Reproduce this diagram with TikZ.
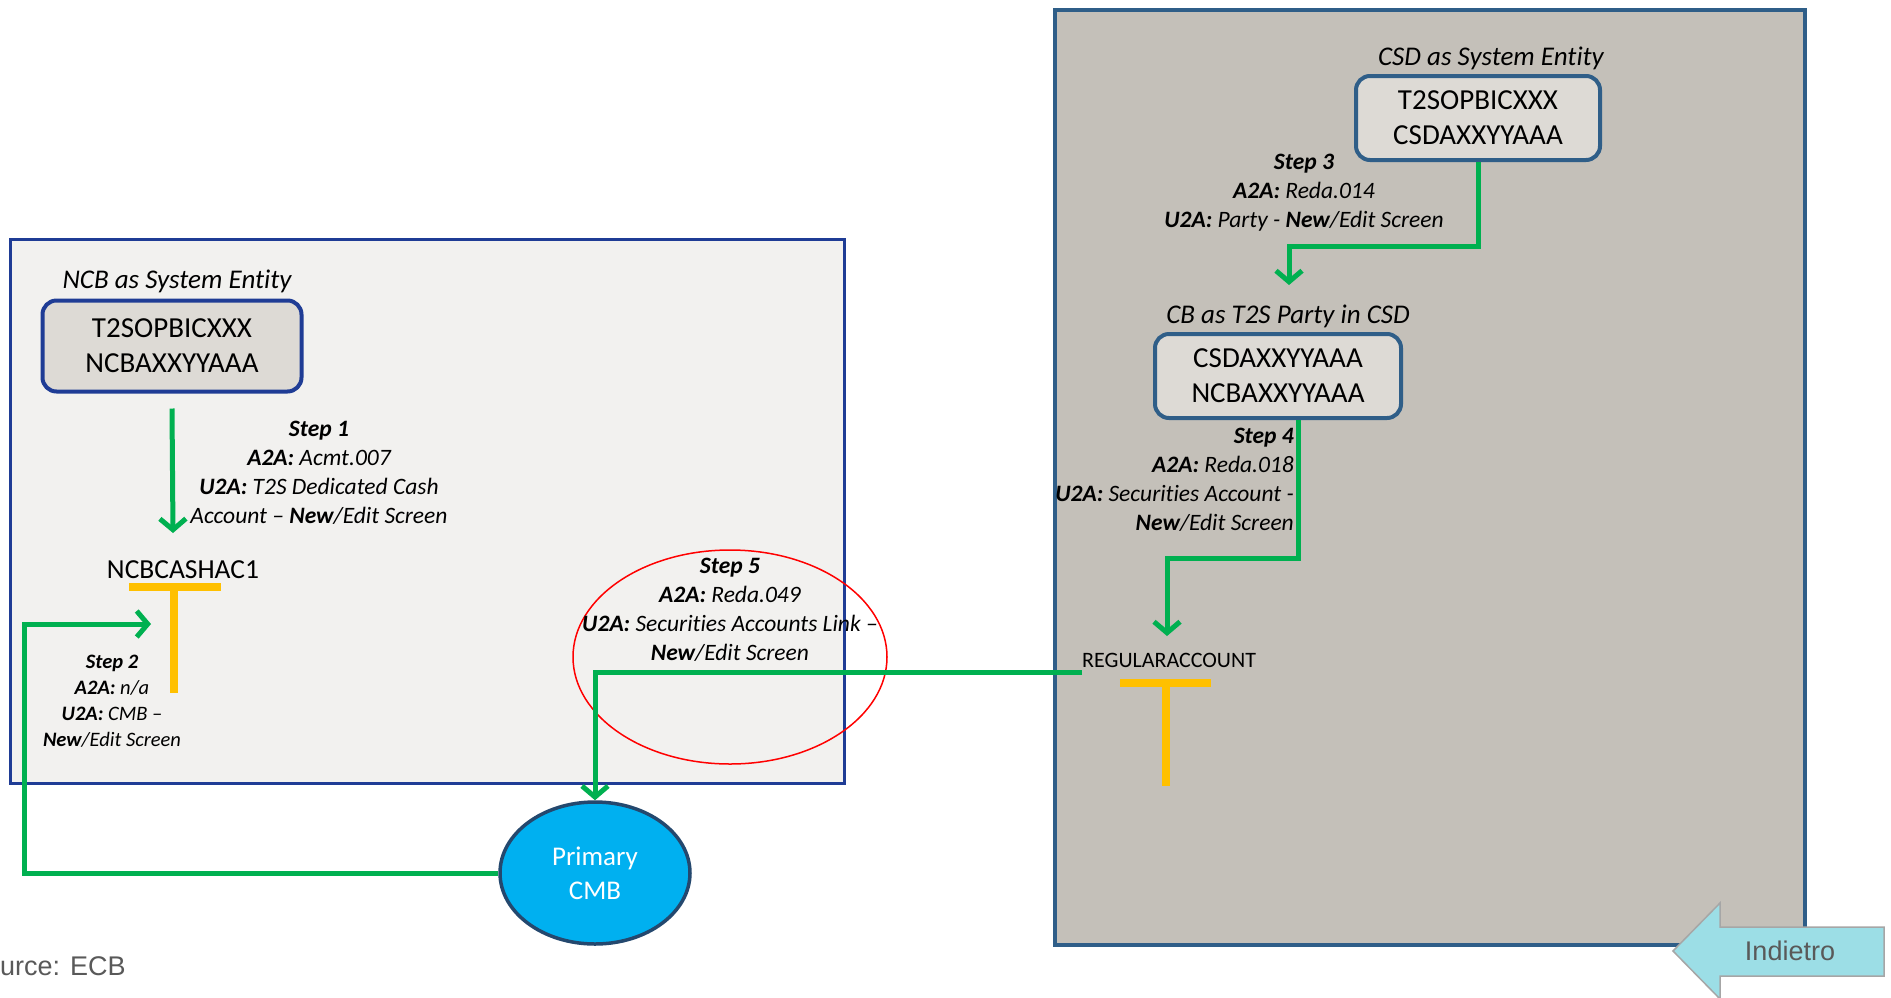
\documentclass[tikz,border=0pt]{standalone}
\usepackage{fontspec}
\setmainfont{Carlito}[Ligatures={NoCommon,NoRare}]
\newfontfamily\arialfont{Liberation Sans}
\usetikzlibrary{arrows.meta,shapes.geometric}

\definecolor{flowgreen}{HTML}{00B050}
\definecolor{acctyellow}{HTML}{FFC000}
\definecolor{ncbblue}{HTML}{1F3C95}
\definecolor{csdblue}{HTML}{2F5E88}
\definecolor{lightpanel}{HTML}{F2F1EF}
\definecolor{darkpanel}{HTML}{C4C0B9}
\definecolor{boxfill}{HTML}{DDDAD5}
\definecolor{cmbfill}{HTML}{00B0F0}
\definecolor{cmbborder}{HTML}{24486E}
\definecolor{backfill}{HTML}{9CDEE6}
\definecolor{notegray}{HTML}{595959}

\begin{document}
\begin{tikzpicture}[x=1pt,y=-1pt,
    flow/.style={draw=flowgreen,line width=5pt,-{Straight Barb[length=11pt,width=26pt]}},
    acctbar/.style={draw=acctyellow,line width=8pt},
    entitybox/.style={draw=#1,fill=boxfill,line width=4pt,rounded corners=14pt,
      align=center,font=\fontsize{29}{35}\selectfont,inner sep=0pt},
    heading/.style={font=\itshape\fontsize{27}{27}\selectfont,inner sep=0pt},
    steptext/.style={font=\itshape\fontsize{23.5}{29}\selectfont,align=center,inner sep=0pt},
    acctname/.style={font=\fontsize{#1}{#1}\selectfont,inner sep=0pt}]
  \useasboundingbox[fill=white] (0,0) rectangle (1891,997);

  \draw[draw=csdblue,fill=darkpanel,line width=4pt] (1055,10) rectangle (1805,945);
  \draw[draw=ncbblue,fill=lightpanel,line width=3pt] (10,239) rectangle (844,783);

  \node[entitybox=ncbblue,minimum width=259pt,minimum height=91pt] (ncb) at (172,346)
    {T2SOPBICXXX\\NCBAXXYYAAA};
  \node[heading] (ncbhead) at (177,281) {NCB as System Entity};

  \node[acctname=27.5] (ncash) at (183,570) {NCBCASHAC1};
  \coordinate (t1) at (174,587);
  \draw[acctbar] ([xshift=-45pt]t1) -- ([xshift=47pt]t1) (t1) -- ++(0,106);

  \coordinate (s1end) at (173,533);
  \draw[flow] ([yshift=-15pt]ncb.south) -- (s1end);
  \node[steptext] (step1) at (319,473)
    {\textbf{Step 1}\\\textbf{A2A:} Acmt.007\\\textbf{U2A:} T2S Dedicated Cash\\Account -- \textbf{New}/Edit Screen};

  \node[ellipse,draw=cmbborder,fill=cmbfill,line width=3.5pt,minimum width=190pt,minimum height=142pt,
    text=white,align=center,font=\fontsize{27}{34}\selectfont] (cmb) at (595,873) {Primary\\CMB};

  \coordinate (s2end) at (151,624);
  \draw[flow] (cmb.west) -| ([xshift=-127pt]s2end) -- (s2end);
  \node[steptext,font=\itshape\fontsize{20.5}{26}\selectfont] (step2) at (112,701)
    {\textbf{Step 2}\\\textbf{A2A:} n/a\\\textbf{U2A:} CMB --\\\textbf{New}/Edit Screen};

  \node[entitybox=csdblue,minimum width=244pt,minimum height=84pt] (csd) at (1478,118)
    {T2SOPBICXXX\\CSDAXXYYAAA};
  \node[heading] (csdhead) at (1491,58) {CSD as System Entity};

  \node[entitybox=csdblue,minimum width=246pt,minimum height=84pt] (cb) at (1278,376)
    {CSDAXXYYAAA\\NCBAXXYYAAA};
  \node[heading] (cbhead) at (1288,316) {CB as T2S Party in CSD};

  \coordinate (s3end) at (1289,285);
  \draw[flow] (csd.south) |- ([yshift=39pt]s3end) -- (s3end);
  \node[steptext] (step3) at (1304,193)
    {\textbf{Step 3}\\\textbf{A2A:} Reda.014\\\textbf{U2A:} Party - \textbf{New}/Edit Screen};

  \coordinate (s4end) at (1167,636);
  \draw[flow] ([xshift=20pt]cb.south) |- ([yshift=78pt]s4end) -- (s4end);
  \node[steptext,align=right,anchor=east] (step4) at (1294,480)
    {\textbf{Step 4}\\\textbf{A2A:} Reda.018\\\textbf{U2A:} Securities Account -\\\textbf{New}/Edit Screen};

  \node[acctname=22,anchor=west] (regacc) at (1082,660) {REGULARACCOUNT};
  \coordinate (t2) at (1166,683);
  \draw[acctbar] ([xshift=-46pt]t2) -- ([xshift=45pt]t2) (t2) -- ++(0,103);

  \node[ellipse,draw=red,line width=1.5pt,minimum width=314pt,minimum height=214pt] (focus) at (730,657) {};
  \node[steptext] (step5) at (730,610)
    {\textbf{Step 5}\\\textbf{A2A:} Reda.049\\\textbf{U2A:} Securities Accounts Link --\\\textbf{New}/Edit Screen};
  \draw[flow] ([yshift=-12pt]regacc.west) -| (cmb.north);

  \node[anchor=west,inner sep=0pt,text=notegray,font=\arialfont\fontsize{27}{27}\selectfont] (source) at (0,966) {urce: ECB};

  \draw[draw=gray!70,fill=backfill,line width=1.5pt] (1673,951) -- (1720,903) -- (1720,927) -- (1884,927)
    -- (1884,976) -- (1720,976) -- (1720,999) -- cycle;
  \node[inner sep=0pt,text=notegray,font=\arialfont\fontsize{27}{27}\selectfont] (back) at (1790,951) {Indietro};
\end{tikzpicture}
\end{document}
